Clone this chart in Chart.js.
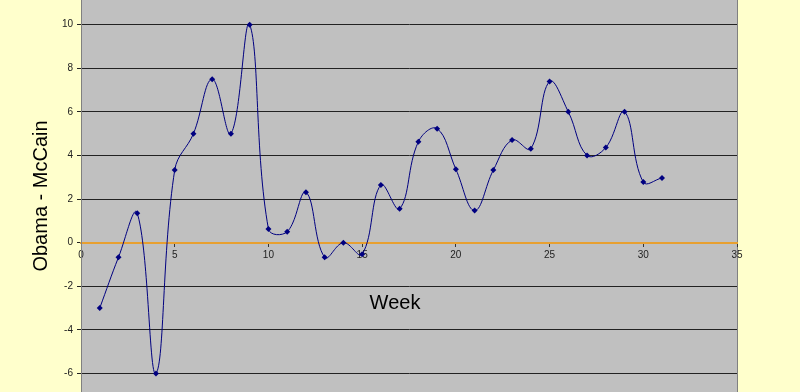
<!DOCTYPE html>
<html>
<head>
<meta charset="utf-8">
<script src="https://cdn.jsdelivr.net/npm/chart.js"></script>
<style>
    html, body { margin: 0; padding: 0; background: #FFFFCC; }
    #wrap { width: 800px; height: 392px; }
</style>
</head>
<body>
<div id="wrap"><canvas id="pollChart" width="800" height="392"></canvas></div>
<script>
    // weekly poll margin, Obama minus McCain
    const weeks = [1, 2, 3, 4, 5, 6, 7, 8, 9, 10, 11, 12, 13, 14, 15, 16,
                   17, 18, 19, 20, 21, 22, 23, 24, 25, 26, 27, 28, 29, 30, 31];
    const margins = [-3, -0.67, 1.35, -6, 3.33, 5, 7.5, 5, 10, 0.63, 0.5, 2.31, -0.67, 0, -0.53, 2.65,
                     1.55, 4.63, 5.23, 3.37, 1.47, 3.33, 4.71, 4.31, 7.39, 6, 4, 4.36, 6, 2.78, 2.97];

    const xTitle = 'Week';
    const yTitle = 'Obama - McCain';

    const NAVY = '#000080';
    const ORANGE = '#E8A030';
    const PLOT_BG = '#C0C0C0';

    const points = weeks.map((w, i) => ({ x: w, y: margins[i] }));

    // grey plot area, its right border and the "Week" caption
    const plotFrame = {
        id: 'plotFrame',
        beforeDraw(chart) {
            const { ctx, chartArea: a } = chart;
            ctx.save();
            ctx.fillStyle = PLOT_BG;
            ctx.fillRect(a.left, a.top, a.right - a.left, a.bottom - a.top);
            ctx.strokeStyle = '#808080';
            ctx.lineWidth = 1;
            ctx.beginPath();
            ctx.moveTo(Math.round(a.right) + 0.5, a.top);
            ctx.lineTo(Math.round(a.right) + 0.5, a.bottom);
            ctx.stroke();
            ctx.restore();
        },
        afterDraw(chart) {
            const { ctx, chartArea: a } = chart;
            ctx.save();
            ctx.fillStyle = '#000';
            ctx.font = '20px "Liberation Sans", Arial, sans-serif';
            ctx.textAlign = 'center';
            ctx.textBaseline = 'alphabetic';
            ctx.fillText(xTitle, a.left + 314, 309);
            ctx.restore();
        }
    };

    new Chart(document.getElementById('pollChart'), {
        type: 'scatter',
        data: {
            datasets: [{
                label: yTitle,
                data: points,
                showLine: true,
                tension: 0.4,
                borderColor: NAVY,
                borderWidth: 1,
                pointStyle: 'rectRot',
                pointRadius: 3,
                pointBackgroundColor: NAVY,
                pointBorderColor: NAVY,
                pointBorderWidth: 0
            }]
        },
        options: {
            responsive: false,
            animation: false,
            devicePixelRatio: 1,
            layout: { autoPadding: false, padding: { left: 0, right: 63, top: 0, bottom: 0 } },
            plugins: {
                legend: { display: false },
                tooltip: { enabled: false }
            },
            scales: {
                x: {
                    type: 'linear',
                    position: { y: 0 },
                    min: 0,
                    max: 35,
                    ticks: {
                        stepSize: 5,
                        padding: 4,
                        color: '#222',
                        font: { family: '"Liberation Sans", Arial, sans-serif', size: 10 }
                    },
                    grid: {
                        drawOnChartArea: false,
                        drawTicks: true,
                        tickLength: 3,
                        color: '#333'
                    },
                    border: { color: ORANGE, width: 2 }
                },
                y: {
                    type: 'linear',
                    position: 'left',
                    min: -6.85,
                    max: 11.13,
                    afterBuildTicks: (scale) => {
                        scale.ticks = scale.ticks.filter(t => Number.isInteger(t.value) && t.value % 2 === 0);
                    },
                    afterFit: (scale) => {
                        scale.width = 81;
                        scale.paddingTop = 0;
                        scale.paddingBottom = 0;
                    },
                    ticks: {
                        stepSize: 2,
                        padding: 4,
                        color: '#222',
                        font: { family: '"Liberation Sans", Arial, sans-serif', size: 10 }
                    },
                    grid: {
                        color: '#222',
                        lineWidth: 1,
                        tickLength: 4
                    },
                    border: { color: '#808080', width: 1 },
                    title: {
                        display: true,
                        text: yTitle,
                        color: '#000',
                        padding: { top: 29, bottom: 0 },
                        font: { family: '"Liberation Sans", Arial, sans-serif', size: 20 }
                    }
                }
            }
        },
        plugins: [plotFrame]
    });
</script>
</body>
</html>
